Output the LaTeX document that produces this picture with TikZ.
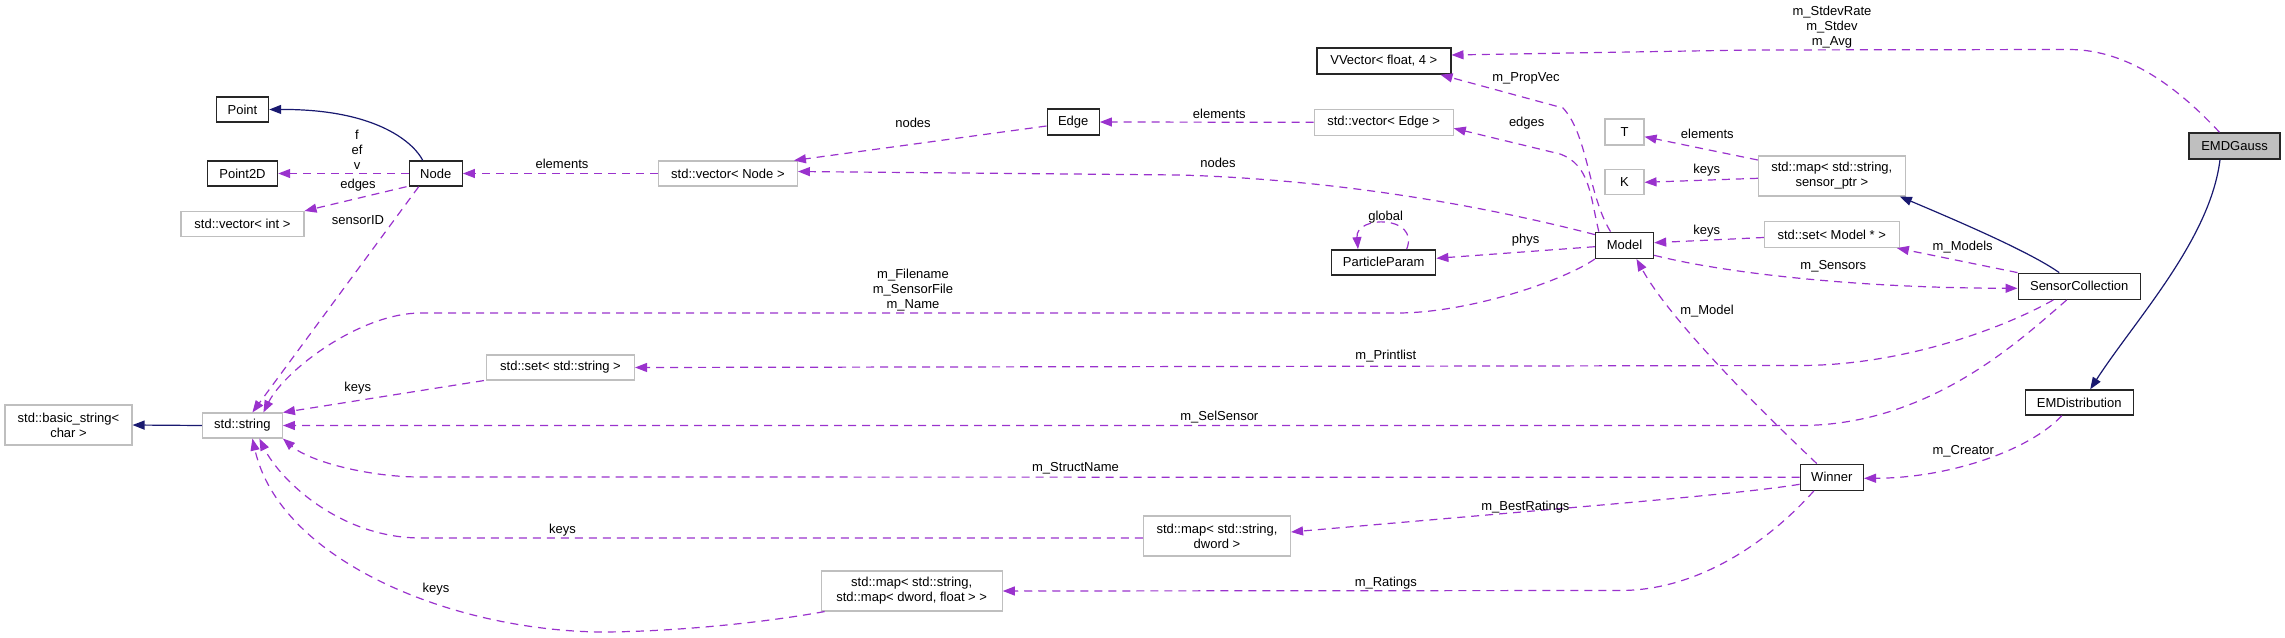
\documentclass[tikz,border=0pt]{standalone}
\usepackage{fontspec}
\setmainfont{Liberation Sans}
\usetikzlibrary{arrows.meta,calc}
\definecolor{purp}{HTML}{9A32CD}
\definecolor{navyb}{HTML}{191970}
\definecolor{gborder}{HTML}{BFBFBF}
\newcommand{\dgfont}{\fontsize{13}{15}\selectfont}
\begin{document}
\begin{tikzpicture}[x=1pt,y=-1pt,
  cls/.style={draw=black!85,line width=1.4pt,fill=white,inner sep=0pt,minimum height=25pt,font=\dgfont,align=center},
  ext/.style={draw=gborder,line width=1.1pt,fill=white,inner sep=0pt,minimum height=25pt,font=\dgfont,align=center},
  uses/.style={draw=purp,line width=1.2pt,dash pattern=on 8pt off 6pt,-{Triangle[length=12pt,width=9pt]}},
  inh/.style={draw=navyb,line width=1.2pt,-{Triangle[length=12pt,width=9pt]}},
  lbl/.style={font=\dgfont,inner sep=0pt,align=center}]
\useasboundingbox (0,0) rectangle (2285,637);

% nodes
\node[cls,minimum width=52pt] (Point) at (242.5,109.5) {Point};
\node[cls,minimum width=70pt] (Point2D) at (242.5,173.5) {Point2D};
\node[ext,minimum width=123pt] (vecint) at (242.5,224) {std::vector< int >};
\node[cls,minimum width=53pt] (Node) at (435.7,173.5) {Node};
\node[ext,minimum width=127pt,minimum height=40pt] (basicstr) at (68.5,425) {std::basic\_string<\\char >};
\node[ext,minimum width=80pt] (string) at (242.4,425.5) {std::string};
\node[ext,minimum width=148pt] (setstr) at (560.5,367.5) {std::set< std::string >};
\node[ext,minimum width=139pt] (vecnode) at (727.9,173.5) {std::vector< Node >};
\node[cls,minimum width=52pt,minimum height=26pt] (Edge) at (1073.2,122) {Edge};
\node[ext,minimum width=147pt,minimum height=40pt] (mapdw) at (1217,536) {std::map< std::string,\\dword >};
\node[ext,minimum width=181pt,minimum height=40pt] (mapmap) at (911.7,591) {std::map< std::string,\\std::map< dword, float > >};
\node[cls,minimum width=134pt,minimum height=26pt] (VVector) at (1383.8,61) {VVector< float, 4 >};
\node[ext,minimum width=139pt,minimum height=26pt] (vecedge) at (1383.7,122.3) {std::vector< Edge >};
\node[ext,minimum width=39pt,minimum height=26pt] (T) at (1624.5,132) {T};
\node[ext,minimum width=39pt] (K) at (1624.5,182.3) {K};
\node[cls,minimum width=104pt] (PP) at (1383.7,262.3) {ParticleParam};
\node[cls,minimum width=58pt,minimum height=26pt] (Model) at (1624.5,245.3) {Model};
\node[ext,minimum width=147pt,minimum height=40pt] (mapsp) at (1831.8,176) {std::map< std::string,\\sensor\_ptr >};
\node[ext,minimum width=135pt,minimum height=26pt] (setmodel) at (1831.8,234.5) {std::set< Model * >};
\node[cls,minimum width=122pt,minimum height=26pt] (SC) at (2079.2,286.3) {SensorCollection};
\node[cls,minimum width=91pt,minimum height=26pt,fill=gborder] (EMDGauss) at (2234.5,146) {EMDGauss};
\node[cls,minimum width=108pt] (EMDist) at (2079.2,402.5) {EMDistribution};
\node[cls,minimum width=63pt,minimum height=26pt] (Winner) at (1831.8,477.3) {Winner};

% inheritance edges
\draw[inh] ($(Node.north)+(-13,0)$) .. controls (415,145) and (380,109) .. (Point.east);
\draw[inh] (string.west) -- (basicstr.east);
\draw[inh] ($(SC.north)+(-20,0)$) .. controls (2030,252) and (1960,222) .. ($(mapsp.south east)+(-6,0)$);
\draw[inh] ($(EMDGauss.south)+(-14.5,0)$) .. controls (2210,240) and (2135,320) .. ($(EMDist.north)+(11,0)$);

% usage edges
\draw[uses] (Node.west) -- (Point2D.east);
\draw[uses] ($(Node.south west)+(-2,0)$) -- (vecint.north east);
\draw[uses] ($(Node.south)+(-17,0)$) -- ($(string.north)+(10,0)$);
\draw[uses] (vecnode.west) -- (Node.east);
\draw[uses] ($(Edge.west)+(0,4)$) -- ($(vecnode.north east)+(-4,0)$);
\draw[uses] ($(Model.north west)+(0,3)$) .. controls (1500,210) and (1350,180) .. (1180,175) -- ($(vecnode.east)+(0,-2)$);
\draw[uses] (vecedge.west) -- (Edge.east);
\draw[uses] ($(Model.north)+(-14,0)$) .. controls (1588,195) and (1588,135) .. (1563,108) -- ($(VVector.south east)+(-11,0)$);
\draw[uses] ($(Model.north west)+(4,0)$) .. controls (1590,195) and (1590,165) .. (1560,154) -- ($(vecedge.east)+(0,6)$);
\draw[uses] ($(PP.north)+(23,0)$) .. controls (1420,215) and (1355,215) .. ($(PP.north)+(-25.7,0)$);
\draw[uses] ($(Model.west)+(0,1.4)$) -- ($(PP.east)+(0,-4)$);
\draw[uses] (Model.south west) .. controls (1565,280) and (1470,313) .. (1397,313) -- (421,313) .. controls (360,313) and (285,370) .. ($(string.north)+(21,0)$);
\draw[uses] ($(setstr.south west)+(-2,0)$) -- (string.north east);
\draw[uses] ($(SC.south)+(-26,0)$) .. controls (2000,330) and (1900,365.5) .. (1800,365.5) -- (setstr.east);
\draw[uses] ($(SC.south)+(-12.5,0)$) .. controls (2020,340) and (1930,425.5) .. (1800,425.5) -- (string.east);
\draw[uses] (Winner.west) -- (420,477) .. controls (370,477) and (310,462) .. (string.south east);
\draw[uses] ($(mapdw.west)+(0,2)$) -- (421,538) .. controls (340,538) and (280,480) .. ($(string.south)+(17,0)$);
\draw[uses] ($(mapmap.south west)+(4,0)$) .. controls (750,625) and (660,632) .. (600,632) .. controls (450,630) and (280,560) .. ($(string.south)+(10,0)$);
\draw[uses] ($(Winner.west)+(0,7)$) .. controls (1740,494) and (1600,505) .. ($(mapdw.east)+(0,-4)$);
\draw[uses] ($(Winner.south)+(-18,0)$) .. controls (1770,540) and (1700,590.5) .. (1620,590.5) -- (mapmap.east);
\draw[uses] ($(Model.east)+(0,10)$) .. controls (1720,272) and (1850,288) .. ($(SC.west)+(0,2)$);
\draw[uses] ($(setmodel.west)+(0,3)$) -- ($(Model.east)+(0,-2.6)$);
\draw[uses] (SC.north west) -- ($(setmodel.south east)+(-3,0)$);
\draw[uses] ($(mapsp.west)+(0,-16)$) -- ($(T.east)+(0,4.7)$);
\draw[uses] ($(mapsp.west)+(0,2.3)$) -- (K.east);
\draw[uses] ($(EMDGauss.north)+(-15,0)$) .. controls (2180,90) and (2130,50) .. (2070,49.5) -- (1750,50) -- ($(VVector.east)+(0,-6)$);
\draw[uses] ($(EMDist.south)+(-17.5,0)$) .. controls (2030,450) and (1950,478) .. ($(Winner.east)+(0,1)$);
\draw[uses] ($(Winner.north)+(-15,0)$) .. controls (1760,410) and (1670,320) .. ($(Model.south)+(12,0)$);

% labels
\node[lbl] (l1) at (357,150) {f\\ef\\v};
\node[lbl] (l2) at (358,185) {edges};
\node[lbl] (l3) at (358,220) {sensorID};
\node[lbl] (l4) at (562,164) {elements};
\node[lbl] (l5) at (357.8,388) {keys};
\node[lbl] (l6) at (913,123) {nodes};
\node[lbl] (l7) at (913,290) {m\_Filename\\m\_SensorFile\\m\_Name};
\node[lbl] (l8) at (1075.5,468) {m\_StructName};
\node[lbl] (l9) at (562.5,530) {keys};
\node[lbl] (l10) at (436,589) {keys};
\node[lbl] (l11) at (1219.3,114) {elements};
\node[lbl] (l12) at (1218,163) {nodes};
\node[lbl] (l13) at (1526,78.7) {m\_PropVec};
\node[lbl] (l14) at (1526.7,123.3) {edges};
\node[lbl] (l15) at (1707.3,134.3) {elements};
\node[lbl] (l16) at (1706.7,170.3) {keys};
\node[lbl] (l17) at (1385.7,216.7) {global};
\node[lbl] (l18) at (1525.7,240) {phys};
\node[lbl] (l19) at (1706.7,230.7) {keys};
\node[lbl] (l20) at (1707,311) {m\_Model};
\node[lbl] (l21) at (1385.8,356) {m\_Printlist};
\node[lbl] (l22) at (1219.3,417) {m\_SelSensor};
\node[lbl] (l23) at (1525.4,507) {m\_BestRatings};
\node[lbl] (l24) at (1385.8,583) {m\_Ratings};
\node[lbl] (l25) at (1832,26.7) {m\_StdevRate\\m\_Stdev\\m\_Avg};
\node[lbl] (l26) at (1962.7,246.7) {m\_Models};
\node[lbl] (l27) at (1833.3,266) {m\_Sensors};
\node[lbl] (l28) at (1963.3,451.7) {m\_Creator};
\end{tikzpicture}
\end{document}
